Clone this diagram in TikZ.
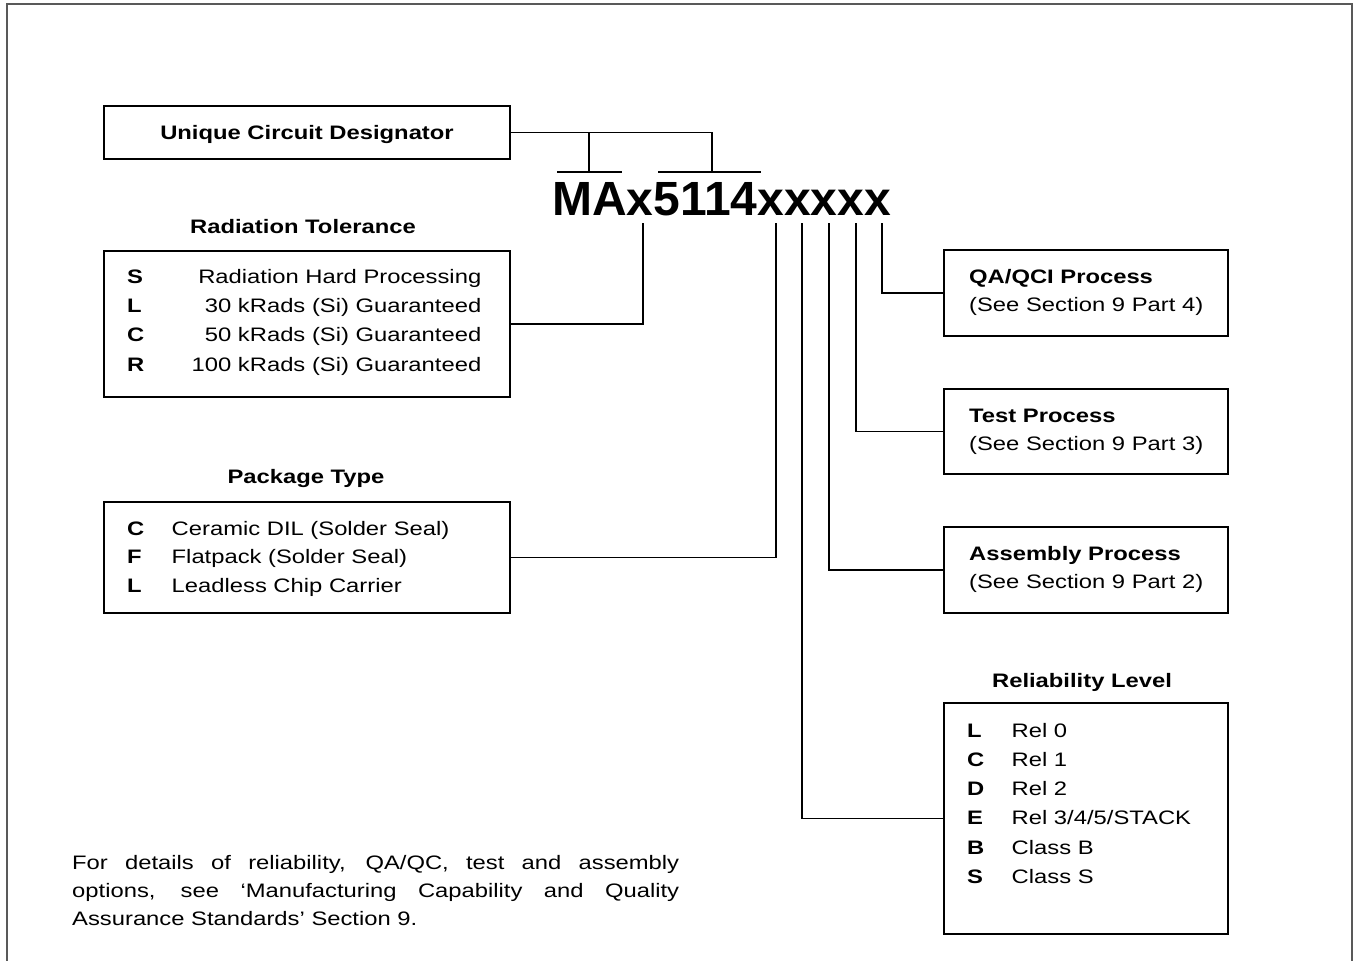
\documentclass[tikz,border=0pt]{standalone}
\usepackage{fontspec}
\setmainfont{Liberation Sans}
\newfontfamily\widefont{Liberation Sans}[FakeStretch=1.22]
\begin{document}
\begin{tikzpicture}[x=1pt,y=-1pt,
  optbox/.style={draw=black, line width=2.2pt, inner sep=0pt},
  txt/.style={inner sep=0pt, font=\widefont\fontsize{19.5}{28}\selectfont},
  btxt/.style={inner sep=0pt, font=\widefont\bfseries\fontsize{19.5}{28}\selectfont},
  conn/.style={line width=1.2pt, draw=black},
  frameline/.style={line width=1.5pt, draw=black!65}]
\useasboundingbox (0,0) rectangle (1353,961);
\draw[frameline] (7,961) -- (7,4) -- (1352,4) -- (1352,961);

% boxes
\node[optbox, minimum width=406pt, minimum height=53pt] (ucd) at (307,132.5) {};
\node[optbox, minimum width=406pt, minimum height=146pt] (rad) at (307,324) {};
\node[optbox, minimum width=406pt, minimum height=111pt] (pkg) at (307,557.5) {};
\node[optbox, minimum width=284pt, minimum height=86pt] (qa) at (1086,293) {};
\node[optbox, minimum width=284pt, minimum height=85pt] (tst) at (1086,431.5) {};
\node[optbox, minimum width=284pt, minimum height=86pt] (asm) at (1086,570) {};
\node[optbox, minimum width=284pt, minimum height=231pt] (rel) at (1086,818.5) {};

% part number
\node[inner sep=0pt, anchor=base, font=\bfseries\fontsize{48}{48}\selectfont] (pn) at (721.5,215) {MAx5114xxxxx};

% unique circuit designator
\node[btxt, anchor=base] (ucdt) at (307,139) {Unique Circuit Designator};

% radiation tolerance
\node[btxt, anchor=base] (radt) at (303,233) {Radiation Tolerance};
\node[btxt, anchor=base west] (r1k) at (127,283.3) {S};
\node[btxt, anchor=base west] (r2k) at (127,312.6) {L};
\node[btxt, anchor=base west] (r3k) at (127,341.9) {C};
\node[btxt, anchor=base west] (r4k) at (127,371.2) {R};
\node[txt, anchor=base east] (r1v) at (481.5,283.3) {Radiation Hard Processing};
\node[txt, anchor=base east] (r2v) at (481.5,312.6) {30 kRads (Si) Guaranteed};
\node[txt, anchor=base east] (r3v) at (481.5,341.9) {50 kRads (Si) Guaranteed};
\node[txt, anchor=base east] (r4v) at (481.5,371.2) {100 kRads (Si) Guaranteed};

% package type
\node[btxt, anchor=base] (pkgt) at (306,483) {Package Type};
\node[btxt, anchor=base west] (p1k) at (127,535) {C};
\node[btxt, anchor=base west] (p2k) at (127,563.5) {F};
\node[btxt, anchor=base west] (p3k) at (127,592) {L};
\node[txt, anchor=base west] (p1v) at (171.5,535) {Ceramic DIL (Solder Seal)};
\node[txt, anchor=base west] (p2v) at (171.5,563.5) {Flatpack (Solder Seal)};
\node[txt, anchor=base west] (p3v) at (171.5,592) {Leadless Chip Carrier};

% process boxes
\node[btxt, anchor=base west] (qat) at (969,283.7) {QA/QCI Process};
\node[txt, anchor=base west] (qas) at (969,311.7) {(See Section 9 Part 4)};
\node[btxt, anchor=base west] (tstt) at (969,422.7) {Test Process};
\node[txt, anchor=base west] (tsts) at (969,450.7) {(See Section 9 Part 3)};
\node[btxt, anchor=base west] (asmt) at (969,560.7) {Assembly Process};
\node[txt, anchor=base west] (asms) at (969,588.7) {(See Section 9 Part 2)};

% reliability level
\node[btxt, anchor=base] (relt) at (1082,687) {Reliability Level};
\foreach \k/\v [count=\i from 0] in {L/Rel 0, C/Rel 1, D/Rel 2, E/Rel 3\slash 4\slash 5\slash STACK, B/Class B, S/Class S}{
  \node[btxt, anchor=base west] (l\i k) at (967,737.3+\i*29.2) {\k};
  \node[txt, anchor=base west] (l\i v) at (1011.5,737.3+\i*29.2) {\v};
}

% footnote (base anchor = last line baseline)
\node[txt, anchor=base west, align=left] (note) at (72,925) {%
\makebox[607pt][s]{For details of reliability, QA/QC, test and assembly}\\
\makebox[607pt][s]{options, see ‘Manufacturing Capability and Quality}\\
Assurance Standards’ Section 9.};

% top bracket
\coordinate (bL) at (589,172);
\coordinate (bR) at (712,172);
\coordinate (o1a) at (557,172);
\coordinate (o1b) at (622,172);
\coordinate (o2a) at (658,172);
\coordinate (o2b) at (761,172);
\draw[conn] (ucd.east) -| (bR);
\draw[conn] (bL) -- (bL |- ucd.east);
\draw[conn] (o1a) -- (o1b);
\draw[conn] (o2a) -- (o2b);

% taps below the part number
\coordinate (tr) at (643,223);
\coordinate (tp) at (776,223);
\coordinate (tl) at (802,223);
\coordinate (ta) at (829,223);
\coordinate (tt) at (856,223);
\coordinate (tq) at (882,223);
\draw[conn] (tr) |- (rad.east);
\draw[conn] (tp) |- (pkg.east);
\draw[conn] (tl) |- (rel.west);
\draw[conn] (ta) |- (asm.west);
\draw[conn] (tt) |- (tst.west);
\draw[conn] (tq) |- (qa.west);
\end{tikzpicture}
\end{document}
